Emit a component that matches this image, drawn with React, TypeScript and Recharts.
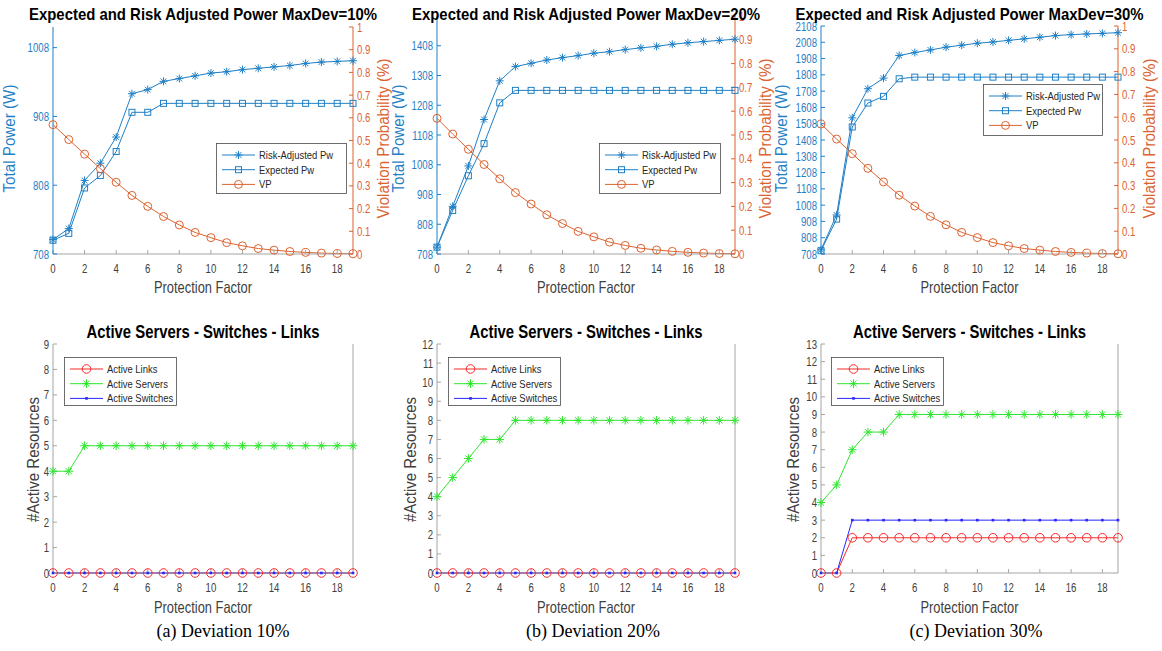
import React from 'react'
import { LineChart, Line, XAxis, YAxis, Legend } from 'recharts'

// x axis: protection factor
const protectionFactor = [0, 1, 2, 3, 4, 5, 6, 7, 8, 9, 10, 11, 12, 13, 14, 15, 16, 17, 18, 19]
const xTicks = [0, 2, 4, 6, 8, 10, 12, 14, 16, 18]

// top row: total power (W) and violation probability
const riskPw10 = [729, 745, 815, 840, 878, 941, 947, 959, 963, 967, 971, 973, 976, 978, 980, 982, 985, 987, 988, 989]
const expPw10 = [728, 738, 804, 822, 857, 914, 914, 927, 927, 927, 927, 927, 927, 927, 927, 927, 927, 927, 927, 927]
const riskPw20 = [731, 868, 1004, 1160, 1290, 1338, 1349, 1360, 1368, 1375, 1383, 1388, 1395, 1401, 1406, 1413, 1418, 1422, 1426, 1430]
const expPw20 = [731, 854, 971, 1079, 1216, 1258, 1258, 1258, 1258, 1258, 1258, 1258, 1258, 1258, 1258, 1258, 1258, 1258, 1258, 1258]
const riskPw30 = [734, 948, 1544, 1723, 1788, 1927, 1945, 1961, 1978, 1990, 2002, 2010, 2020, 2029, 2039, 2049, 2055, 2059, 2063, 2067]
const expPw30 = [728, 922, 1488, 1635, 1676, 1784, 1794, 1794, 1794, 1794, 1794, 1794, 1794, 1794, 1794, 1794, 1794, 1794, 1794, 1794]
const violationProb = [0.57, 0.504, 0.44, 0.376, 0.316, 0.258, 0.21, 0.165, 0.128, 0.095, 0.072, 0.05, 0.036, 0.024, 0.017, 0.011, 0.007, 0.004, 0.002, 0.001]

const pwTicks10 = [708, 808, 908, 1008]
const pwTicks20 = [708, 808, 908, 1008, 1108, 1208, 1308, 1408]
const pwTicks30 = [708, 808, 908, 1008, 1108, 1208, 1308, 1408, 1508, 1608, 1708, 1808, 1908, 2008, 2108]
const vpTicks = [0, 0.1, 0.2, 0.3, 0.4, 0.5, 0.6, 0.7, 0.8, 0.9, 1]

// bottom row: active resources
const links10 = [0, 0, 0, 0, 0, 0, 0, 0, 0, 0, 0, 0, 0, 0, 0, 0, 0, 0, 0, 0]
const servers10 = [4, 4, 5, 5, 5, 5, 5, 5, 5, 5, 5, 5, 5, 5, 5, 5, 5, 5, 5, 5]
const switches10 = [0, 0, 0, 0, 0, 0, 0, 0, 0, 0, 0, 0, 0, 0, 0, 0, 0, 0, 0, 0]
const links20 = [0, 0, 0, 0, 0, 0, 0, 0, 0, 0, 0, 0, 0, 0, 0, 0, 0, 0, 0, 0]
const servers20 = [4, 5, 6, 7, 7, 8, 8, 8, 8, 8, 8, 8, 8, 8, 8, 8, 8, 8, 8, 8]
const switches20 = [0, 0, 0, 0, 0, 0, 0, 0, 0, 0, 0, 0, 0, 0, 0, 0, 0, 0, 0, 0]
const links30 = [0, 0, 2, 2, 2, 2, 2, 2, 2, 2, 2, 2, 2, 2, 2, 2, 2, 2, 2, 2]
const servers30 = [4, 5, 7, 8, 8, 9, 9, 9, 9, 9, 9, 9, 9, 9, 9, 9, 9, 9, 9, 9]
const switches30 = [0, 0, 3, 3, 3, 3, 3, 3, 3, 3, 3, 3, 3, 3, 3, 3, 3, 3, 3, 3]

const resTicks9 = [0, 1, 2, 3, 4, 5, 6, 7, 8, 9]
const resTicks12 = [0, 1, 2, 3, 4, 5, 6, 7, 8, 9, 10, 11, 12]
const resTicks13 = [0, 1, 2, 3, 4, 5, 6, 7, 8, 9, 10, 11, 12, 13]

const topTitles = [
  'Expected and Risk Adjusted Power MaxDev=10%',
  'Expected and Risk Adjusted Power MaxDev=20%',
  'Expected and Risk Adjusted Power MaxDev=30%',
]
const bottomTitle = 'Active Servers - Switches - Links'
const captions = ['(a) Deviation 10%', '(b) Deviation 20%', '(c) Deviation 30%']

const FONT = '"Liberation Sans", Arial, Helvetica, sans-serif'
const BLUE = '#1f80c6'
const ORANGE = '#dc6330'
const AXIS_GRAY = '#a4a4a4'
const TEXT_GRAY = '#404040'

const SERIES: Record<string, { name: string; color: string; marker: string; size: number }> = {
  risk: { name: 'Risk-Adjusted Pw', color: BLUE, marker: 'star', size: 4 },
  expected: { name: 'Expected Pw', color: BLUE, marker: 'square', size: 3 },
  vp: { name: 'VP', color: ORANGE, marker: 'circle', size: 4 },
  links: { name: 'Active Links', color: '#f52a2a', marker: 'circle', size: 4.3 },
  servers: { name: 'Active Servers', color: '#2ee62e', marker: 'star', size: 4.3 },
  switches: { name: 'Active Switches', color: '#2626ff', marker: 'point', size: 1.3 },
}
const legendOrder = ['risk', 'expected', 'vp', 'links', 'servers', 'switches']

// layout of the six panels (page pixels)
const TOP_ROW = { top: 0, height: 300, plotBottom: 254 }
const BOTTOM_ROW = { top: 300, height: 351, plotBottom: 573 }
const topPanels = [
  { left: 0, width: 390, plotLeft: 53, plotRight: 353, plotTop: 27 },
  { left: 384, width: 390, plotLeft: 437, plotRight: 735, plotTop: 16 },
  { left: 768, width: 394, plotLeft: 821, plotRight: 1118, plotTop: 26 },
]
const bottomPanels = [
  { left: 0, width: 390, plotLeft: 53, plotRight: 353, plotTop: 344 },
  { left: 384, width: 390, plotLeft: 437, plotRight: 735, plotTop: 344 },
  { left: 768, width: 394, plotLeft: 821, plotRight: 1118, plotTop: 344 },
]
const topLegends = [
  { x: 216, y: 143, w: 131, h: 51 },
  { x: 215, y: 143, w: 122, h: 51 },
  { x: 215, y: 84, w: 120, h: 52 },
]
const bottomLegends = [
  { x: 64, y: 57, w: 113, h: 49 },
  { x: 64, y: 57, w: 113, h: 49 },
  { x: 63, y: 57, w: 113, h: 49 },
]
const powerLabelX = [15, 404, 787]
const vpLabelX = [389, 771, 1155]
const resLabelX = [39, 416, 799]

const Marker = ({ kind, x, y, color, s }: { kind: string; x: number; y: number; color: string; s: number }) => {
  if (kind === 'star') {
    const d = s * 0.72
    return (
      <g stroke={color} strokeWidth={1} fill="none">
        <line x1={x - s} y1={y} x2={x + s} y2={y} />
        <line x1={x} y1={y - s} x2={x} y2={y + s} />
        <line x1={x - d} y1={y - d} x2={x + d} y2={y + d} />
        <line x1={x - d} y1={y + d} x2={x + d} y2={y - d} />
      </g>
    )
  }
  if (kind === 'square') {
    return <rect x={x - s} y={y - s} width={s * 2} height={s * 2} fill="none" stroke={color} strokeWidth={1} />
  }
  if (kind === 'circle') {
    return <circle cx={x} cy={y} r={s} fill="none" stroke={color} strokeWidth={1} />
  }
  return <rect x={x - s} y={y - s} width={s * 2} height={s * 2} fill={color} />
}

const dotFor = (key: string) => (props: any) => {
  const st = SERIES[key]
  const { cx, cy, index } = props
  if (cx == null || cy == null) return <g key={`${key}-${index}`} />
  return (
    <g key={`${key}-${index}`}>
      <Marker kind={st.marker} x={cx} y={cy} color={st.color} s={st.size} />
    </g>
  )
}

const renderTick = (anchor: 'start' | 'end' | 'middle', color: string, dy: number) => (props: any) => {
  const { x, y, payload } = props
  return (
    <g transform={`translate(${x},${y})`}>
      <text textAnchor={anchor} dy={dy} transform="scale(0.74,1)" fill={color} fontSize={13} fontFamily={FONT}>
        {String(payload.value)}
      </text>
    </g>
  )
}

const renderLegend = (box: { w: number; h: number }) => (props: any) => {
  const items = [...(props.payload || [])].sort(
    (a: any, b: any) => legendOrder.indexOf(String(a.dataKey)) - legendOrder.indexOf(String(b.dataKey))
  )
  return (
    <svg width={box.w} height={box.h} style={{ display: 'block' }}>
      <rect x={0.5} y={0.5} width={box.w - 1} height={box.h - 1} fill="#fff" stroke="#4a4a4a" strokeWidth={0.8} />
      {items.map((it: any, i: number) => {
        const st = SERIES[String(it.dataKey)]
        const y = 12 + i * 14.7
        return (
          <g key={String(it.dataKey)}>
            <line x1={6} y1={y} x2={39} y2={y} stroke={st.color} strokeWidth={1} />
            <Marker kind={st.marker} x={22.5} y={y} color={st.color} s={st.size} />
            <g transform={`translate(43,${y + 4})`}>
              <text transform="scale(0.86,1)" fontSize={11} fontFamily={FONT} fill="#262626">
                {st.name}
              </text>
            </g>
          </g>
        )
      })}
    </svg>
  )
}

const seriesLine = (key: string, yAxisId: string | number) => (
  <Line
    key={key}
    yAxisId={yAxisId}
    type="linear"
    dataKey={key}
    name={SERIES[key].name}
    stroke={SERIES[key].color}
    strokeWidth={1}
    dot={dotFor(key)}
    activeDot={false}
    isAnimationActive={false}
  />
)

type PanelBox = { left: number; width: number; plotLeft: number; plotRight: number; plotTop: number }

const PowerPanel = ({ panel, risk, expected, pwDomain, pwTicks, legend }: {
  panel: PanelBox; risk: number[]; expected: number[]; pwDomain: number[]; pwTicks: number[]; legend: { x: number; y: number; w: number; h: number }
}) => {
  const data = protectionFactor.map((pf, i) => ({ pf, risk: risk[i], expected: expected[i], vp: violationProb[i] }))
  return (
    <div style={{ position: 'absolute', left: panel.left, top: TOP_ROW.top }}>
      <LineChart
        width={panel.width}
        height={TOP_ROW.height}
        data={data}
        margin={{ top: panel.plotTop - TOP_ROW.top, right: 0, bottom: 0, left: 0 }}
      >
        <XAxis
          dataKey="pf" type="number" domain={[0, 19]} ticks={xTicks} interval={0}
          height={TOP_ROW.top + TOP_ROW.height - TOP_ROW.plotBottom}
          stroke={AXIS_GRAY} tickSize={-4} tickMargin={8}
          tick={renderTick('middle', TEXT_GRAY, 15.5)}
        />
        <XAxis
          xAxisId="top" orientation="top" dataKey="pf" type="number" domain={[0, 19]} ticks={xTicks} interval={0}
          height={0} stroke={AXIS_GRAY} tickSize={-4} tick={false}
        />
        <YAxis
          yAxisId="pw" type="number" domain={pwDomain} ticks={pwTicks} interval={0}
          width={panel.plotLeft - panel.left} stroke={BLUE} tickSize={-4} tickMargin={8}
          tick={renderTick('end', BLUE, 4.5)}
        />
        <YAxis
          yAxisId="vp" orientation="right" type="number" domain={[0, 1]} ticks={vpTicks} interval={0}
          width={panel.left + panel.width - panel.plotRight} stroke={ORANGE} tickSize={-4} tickMargin={8}
          tick={renderTick('start', ORANGE, 4.5)}
        />
        <Legend
          layout="vertical" align="center" verticalAlign="middle"
          wrapperStyle={{ left: legend.x, top: legend.y, width: legend.w, height: legend.h }}
          content={renderLegend(legend)}
        />
        {seriesLine('risk', 'pw')}
        {seriesLine('expected', 'pw')}
        {seriesLine('vp', 'vp')}
      </LineChart>
    </div>
  )
}

const ResourcePanel = ({ panel, links, servers, switches, resTicks, legend }: {
  panel: PanelBox; links: number[]; servers: number[]; switches: number[]; resTicks: number[]; legend: { x: number; y: number; w: number; h: number }
}) => {
  const data = protectionFactor.map((pf, i) => ({ pf, links: links[i], servers: servers[i], switches: switches[i] }))
  const yMax = resTicks[resTicks.length - 1]
  return (
    <div style={{ position: 'absolute', left: panel.left, top: BOTTOM_ROW.top }}>
      <LineChart
        width={panel.width}
        height={BOTTOM_ROW.height}
        data={data}
        margin={{ top: panel.plotTop - BOTTOM_ROW.top, right: 0, bottom: 0, left: 0 }}
      >
        <XAxis
          dataKey="pf" type="number" domain={[0, 19]} ticks={xTicks} interval={0}
          height={BOTTOM_ROW.top + BOTTOM_ROW.height - BOTTOM_ROW.plotBottom}
          stroke={AXIS_GRAY} tickSize={-4} tickMargin={8}
          tick={renderTick('middle', TEXT_GRAY, 15.5)}
        />
        <XAxis
          xAxisId="top" orientation="top" dataKey="pf" type="number" domain={[0, 19]} ticks={xTicks} interval={0}
          height={0} stroke={AXIS_GRAY} tickSize={-4} tick={false}
        />
        <YAxis
          type="number" domain={[0, yMax]} ticks={resTicks} interval={0}
          width={panel.plotLeft - panel.left} stroke={AXIS_GRAY} tickSize={-4} tickMargin={8}
          tick={renderTick('end', TEXT_GRAY, 4.5)}
        />
        <YAxis
          yAxisId="box" orientation="right" type="number" domain={[0, yMax]} ticks={resTicks} interval={0}
          width={panel.left + panel.width - panel.plotRight} stroke={AXIS_GRAY} tickSize={-4} tick={false}
        />
        <Legend
          layout="vertical" align="center" verticalAlign="middle"
          wrapperStyle={{ left: legend.x, top: legend.y, width: legend.w, height: legend.h }}
          content={renderLegend(legend)}
        />
        {seriesLine('links', 0)}
        {seriesLine('servers', 0)}
        {seriesLine('switches', 0)}
      </LineChart>
    </div>
  )
}

const Txt = ({ x, y, text, size, color, len, bold, rotate, family }: {
  x: number; y: number; text: string; size: number; color: string; len?: number; bold?: boolean; rotate?: boolean; family?: string
}) => (
  <text
    x={0}
    y={0}
    transform={`translate(${x},${y})${rotate ? ' rotate(-90)' : ''}`}
    textAnchor="middle"
    fontSize={size}
    fill={color}
    fontWeight={bold ? 'bold' : 'normal'}
    fontFamily={family || FONT}
    textLength={len}
    lengthAdjust={len ? 'spacingAndGlyphs' : undefined}
  >
    {text}
  </text>
)

const App = () => {
  const center = (p: PanelBox) => (p.plotLeft + p.plotRight) / 2
  return (
    <div style={{ position: 'absolute', left: 0, top: 0, width: 1162, height: 651, background: '#fff', overflow: 'hidden' }}>
      <PowerPanel panel={topPanels[0]} risk={riskPw10} expected={expPw10} pwDomain={[708, 1038]} pwTicks={pwTicks10} legend={topLegends[0]} />
      <PowerPanel panel={topPanels[1]} risk={riskPw20} expected={expPw20} pwDomain={[708, 1508]} pwTicks={pwTicks20} legend={topLegends[1]} />
      <PowerPanel panel={topPanels[2]} risk={riskPw30} expected={expPw30} pwDomain={[708, 2108]} pwTicks={pwTicks30} legend={topLegends[2]} />
      <ResourcePanel panel={bottomPanels[0]} links={links10} servers={servers10} switches={switches10} resTicks={resTicks9} legend={bottomLegends[0]} />
      <ResourcePanel panel={bottomPanels[1]} links={links20} servers={servers20} switches={switches20} resTicks={resTicks12} legend={bottomLegends[1]} />
      <ResourcePanel panel={bottomPanels[2]} links={links30} servers={servers30} switches={switches30} resTicks={resTicks13} legend={bottomLegends[2]} />
      <svg width={1162} height={651} style={{ position: 'absolute', left: 0, top: 0, pointerEvents: 'none' }}>
        {topPanels.map((p, i) => (
          <g key={`t${i}`}>
            <Txt x={center(p)} y={19.5} text={topTitles[i]} size={17} color="#000" len={348} bold />
            <Txt x={center(p)} y={293.3} text="Protection Factor" size={16.5} color={TEXT_GRAY} len={98} />
            <Txt x={powerLabelX[i]} y={138.5} text="Total Power (W)" size={16.5} color={BLUE} len={108} rotate />
            <Txt x={vpLabelX[i]} y={138.5} text="Violation Probability (%)" size={16.5} color={ORANGE} len={160} rotate />
          </g>
        ))}
        {bottomPanels.map((p, i) => (
          <g key={`b${i}`}>
            <Txt x={center(p)} y={337.5} text={bottomTitle} size={17.5} color="#000" len={233} bold />
            <Txt x={center(p)} y={612.7} text="Protection Factor" size={16.5} color={TEXT_GRAY} len={98} />
            <Txt x={resLabelX[i]} y={459.5} text="#Active Resources" size={16.5} color={TEXT_GRAY} len={125} rotate />
          </g>
        ))}
        {captions.map((c, i) => (
          <Txt key={c} x={[223, 593, 976][i]} y={637} text={c} size={18} color="#000" family='"Liberation Serif", "Times New Roman", serif' />
        ))}
      </svg>
    </div>
  )
}

export default App
